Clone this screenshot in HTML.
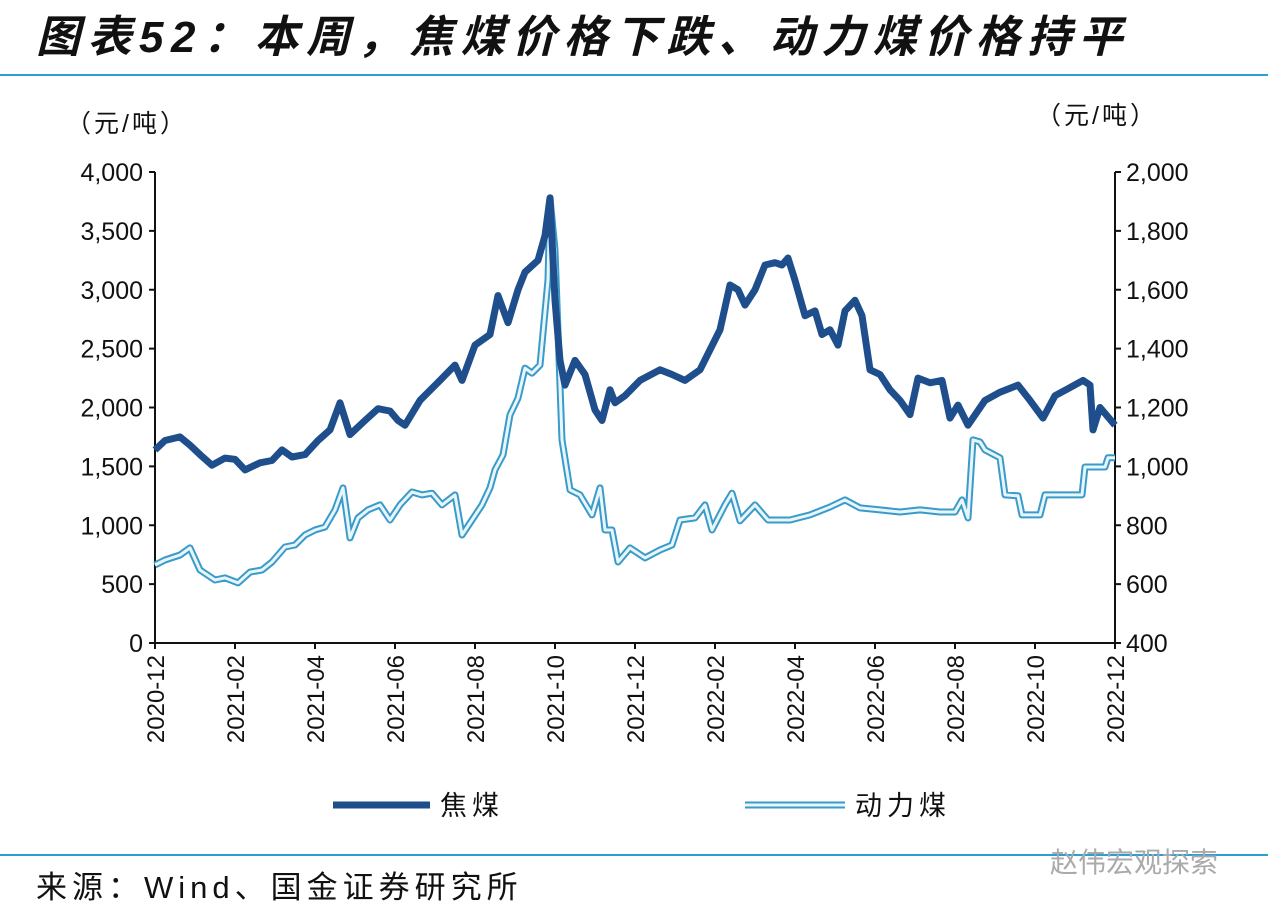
<!DOCTYPE html>
<html><head><meta charset="utf-8"><style>
body{margin:0;background:#fff;width:1268px;height:918px;overflow:hidden;font-family:"Liberation Sans","Noto Sans CJK SC",sans-serif;}
svg text{font-family:"Liberation Sans","Noto Sans CJK SC",sans-serif;}
</style></head><body>
<svg width="1268" height="918" viewBox="0 0 1268 918">
<text x="36" y="52" font-size="44" font-weight="bold" font-style="italic" letter-spacing="7.5" fill="#111">图表52：本周，焦煤价格下跌、动力煤价格持平</text>
<line x1="0" y1="75" x2="1268" y2="75" stroke="#2a9fd6" stroke-width="2"/>
<line x1="0" y1="855" x2="1268" y2="855" stroke="#2a9fd6" stroke-width="2"/>
<text x="36" y="898" font-size="31" letter-spacing="5" fill="#111">来源：Wind、国金证券研究所</text>
<text x="1050" y="872" font-size="28" fill="#aaa">赵伟宏观探索</text>
<text x="66" y="132" font-size="25" letter-spacing="3" fill="#111">（元/吨）</text>
<text x="1036" y="124" font-size="25" letter-spacing="3" fill="#111">（元/吨）</text>
<g id="axes"></g>
<g id="series"></g>
<g>
<line x1="333" y1="805" x2="430" y2="805" stroke="#1f4e8c" stroke-width="7"/>
<text x="440" y="815" font-size="27" letter-spacing="5" fill="#111">焦煤</text>
<line x1="745" y1="805" x2="845" y2="805" stroke="#3a9bc9" stroke-width="7"/>
<line x1="745" y1="805" x2="845" y2="805" stroke="#e8f6fc" stroke-width="3"/>
<text x="855" y="815" font-size="27" letter-spacing="5" fill="#111">动力煤</text>
</g>
</svg>
<script>
const xTicks=["2020-12","2021-02","2021-04","2021-06","2021-08","2021-10","2021-12","2022-02","2022-04","2022-06","2022-08","2022-10","2022-12"];
const leftTicks=[0,500,1000,1500,2000,2500,3000,3500,4000];
const rightTicks=[400,600,800,1000,1200,1400,1600,1800,2000];
// x positions expressed as months since 2020-12
const cokingMonths=[0,0.25,0.625,0.875,1.125,1.425,1.75,2,2.25,2.625,2.925,3.175,3.425,3.75,4.075,4.375,4.625,4.875,5.25,5.575,5.875,6.075,6.25,6.625,7.125,7.5,7.675,8,8.375,8.575,8.825,9.075,9.25,9.575,9.75,9.875,10,10.125,10.25,10.5,10.75,11,11.175,11.375,11.5,11.75,12.125,12.625,12.925,13.25,13.625,13.875,14.125,14.375,14.575,14.75,15,15.25,15.5,15.675,15.825,16,16.25,16.5,16.675,16.875,17.075,17.25,17.5,17.675,17.875,18.125,18.375,18.625,18.875,19.075,19.375,19.675,19.875,20.075,20.325,20.75,21.125,21.575,21.875,22.2,22.5,22.825,23.2,23.375,23.45,23.625,24];
const cokingValues=[1640,1720,1750,1680,1600,1510,1570,1560,1470,1530,1550,1640,1580,1600,1720,1810,2040,1770,1890,1990,1970,1890,1850,2060,2230,2360,2230,2530,2620,2950,2720,3000,3150,3250,3460,3780,2910,2400,2190,2400,2280,1980,1890,2150,2040,2100,2230,2320,2280,2230,2320,2490,2660,3040,3000,2870,3000,3210,3230,3210,3270,3080,2780,2820,2620,2660,2530,2820,2910,2780,2320,2280,2150,2060,1940,2250,2210,2230,1910,2020,1850,2060,2130,2190,2060,1910,2100,2160,2230,2190,1810,2000,1850];
const thermalMonths=[0,0.25,0.625,0.875,1.125,1.5,1.75,2.075,2.375,2.675,2.925,3.25,3.5,3.75,4,4.25,4.5,4.7,4.875,5.075,5.325,5.625,5.875,6.125,6.425,6.675,6.925,7.175,7.5,7.675,7.925,8.175,8.375,8.5,8.7,8.875,9.075,9.25,9.425,9.625,9.825,9.875,10,10.175,10.375,10.625,10.925,11.125,11.25,11.425,11.575,11.875,12.25,12.625,12.925,13.125,13.5,13.75,13.925,14.25,14.425,14.625,15,15.325,15.875,16.375,16.875,17.25,17.625,18.125,18.625,19.125,19.625,20,20.175,20.325,20.45,20.625,20.75,21.125,21.25,21.575,21.675,22.125,22.25,23.175,23.25,23.75,23.825,24];
const thermalValues=[665,682,699,723,648,614,621,604,641,648,675,726,733,767,784,794,852,927,757,825,852,869,818,869,913,903,909,869,903,767,818,869,927,988,1039,1175,1232,1334,1317,1344,1633,1912,1735,1090,920,903,835,927,784,784,675,723,689,716,733,818,825,869,784,869,909,815,869,818,818,835,862,886,859,852,845,852,845,845,886,825,1090,1083,1056,1029,903,900,835,835,903,903,998,998,1029,1029];

const X0=155,X1=1115,Y0=643,Y1=172;
const xs=m=>X0+m*(X1-X0)/24;
const yL=v=>Y0-v/4000*(Y0-Y1);
const yR=v=>Y0-(v-400)/1600*(Y0-Y1);
const NS="http://www.w3.org/2000/svg";
function mk(tag,attrs,parent){const e=document.createElementNS(NS,tag);for(const k in attrs)e.setAttribute(k,attrs[k]);parent.appendChild(e);return e;}
const ax=document.getElementById('axes');
let e;
e=mk('line',{x1:X0,y1:Y1,x2:X0,y2:Y0,stroke:'#111','stroke-width':2},ax);


e=mk('line',{x1:X1,y1:Y1,x2:X1,y2:Y0,stroke:'#111','stroke-width':2},ax);


e=mk('line',{x1:X0,y1:Y0,x2:X1,y2:Y0,stroke:'#111','stroke-width':2},ax);


leftTicks.forEach(v=>{const y=yL(v);
 e=mk('line',{x1:X0-6,y1:y,x2:X0,y2:y,stroke:'#111','stroke-width':2},ax);
 
 
 e=mk('text',{x:143,y:y+9,'font-size':25,'text-anchor':'end',fill:'#111'},ax);
 e.textContent=v.toLocaleString('en-US');
 
 });
rightTicks.forEach(v=>{const y=yR(v);
 e=mk('line',{x1:X1,y1:y,x2:X1+6,y2:y,stroke:'#111','stroke-width':2},ax);
 
 
 e=mk('text',{x:1126,y:y+9,'font-size':25,'text-anchor':'start',fill:'#111'},ax);
 e.textContent=v.toLocaleString('en-US');
 
 });
xTicks.forEach((t,i)=>{const x=xs(i*2);
 e=mk('line',{x1:x,y1:Y0,x2:x,y2:Y0+6,stroke:'#111','stroke-width':2},ax);
 
 
 e=mk('text',{x:0,y:0,'font-size':24,'text-anchor':'end',fill:'#111',transform:`translate(${x+9},${Y0+12}) rotate(-90)`},ax);
 e.textContent=t;
 
 });
const sg=document.getElementById('series');
const tp=thermalMonths.map((m,i)=>xs(m).toFixed(1)+','+yR(thermalValues[i]).toFixed(1)).join(' ');
e=mk('polyline',{points:tp,fill:'none',stroke:'#3a9bc9','stroke-width':7,'stroke-linejoin':'round'},sg);


e=mk('polyline',{points:tp,fill:'none',stroke:'#e8f6fc','stroke-width':3,'stroke-linejoin':'round'},sg);


const cp=cokingMonths.map((m,i)=>xs(m).toFixed(1)+','+yL(cokingValues[i]).toFixed(1)).join(' ');
e=mk('polyline',{points:cp,fill:'none',stroke:'#1f4e8c','stroke-width':7,'stroke-linejoin':'round'},sg);


</script>
</body></html>
